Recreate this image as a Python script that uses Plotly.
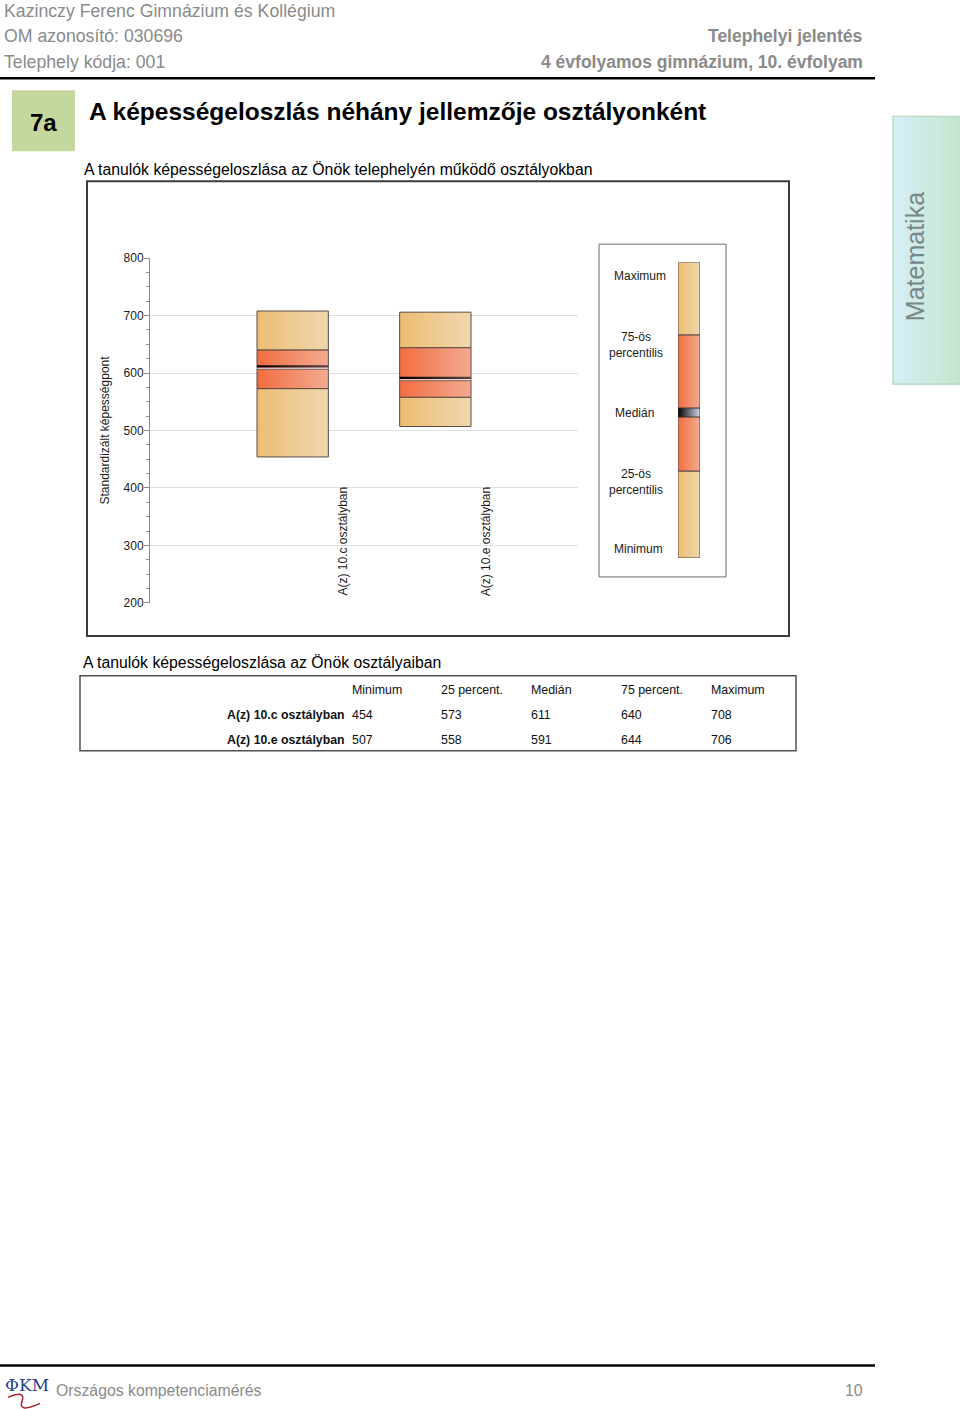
import plotly.graph_objects as go

# ---------------- data ----------------
classes = ["A(z) 10.c osztályban", "A(z) 10.e osztályban"]
minimum = [454, 507]
p25 = [573, 558]
median = [611, 591]
p75 = [640, 644]
maximum = [708, 706]

y_ticks = [200, 300, 400, 500, 600, 700, 800]
table_headers = ["Minimum", "25 percent.", "Medián", "75 percent.", "Maximum"]

# schematic legend bar levels (min, p25, median, p75, max) in arbitrary units
legend_levels = [0, 87, 145.5, 223, 296]
legend_labels = ["Minimum", "25-ös<br>percentilis", "Medián", "75-ös<br>percentilis", "Maximum"]

# ---------------- helpers ----------------
W, H = 960, 1409
FONT = "Arial, Liberation Sans, sans-serif"
# empirical vertical correction of the rendered page
V_OFF, V_SCALE = 6.7, 0.9907


def px(x):
    return x / W


def py(y):
    return 1 - ((y - V_OFF) / V_SCALE) / H


OUTER = [[0, "#EDBD73"], [1, "#F0D7AE"]]
INNER = [[0, "#F26D40"], [1, "#F3AB91"]]
MED = [[0, "#000000"], [1, "#5a4646"]]
MED_LEG = [[0, "#000000"], [1, "#cfdaea"]]
EDGE = dict(color="#5b4b45", width=1)


def rect(x0, x1, y0, y1, cs, line=EDGE, xa="x", ya="y"):
    return go.Scatter(
        x=[x0, x1, x1, x0, x0], y=[y0, y0, y1, y1, y0],
        mode="lines", fill="toself",
        fillgradient=dict(type="horizontal", colorscale=cs),
        line=line, hoverinfo="skip", showlegend=False, xaxis=xa, yaxis=ya,
    )


def hline(x0, x1, y, color, width, xa="x", ya="y"):
    return go.Scatter(x=[x0, x1], y=[y, y], mode="lines",
                      line=dict(color=color, width=width),
                      hoverinfo="skip", showlegend=False, xaxis=xa, yaxis=ya)


fig = go.Figure()

# ---------------- boxes ----------------
half = 0.25
for i, name in enumerate(classes):
    c = i + 1
    x0, x1 = c - half, c + half
    fig.add_trace(rect(x0, x1, minimum[i], p25[i], OUTER))
    fig.add_trace(rect(x0, x1, p75[i], maximum[i], OUTER))
    fig.add_trace(rect(x0, x1, p25[i], p75[i], INNER))
    fig.add_trace(rect(x0, x1, median[i] - 1.5, median[i] + 2.4, MED,
                       line=dict(width=0)))
    fig.add_trace(hline(x0, x1, median[i] - 2.8, "#f1e9ea", 1))
    fig.add_trace(hline(x0, x1, median[i] - 4.4, "#7a6662", 1))

# category labels (rotated, inside the plot)
for i, name in enumerate(classes):
    fig.add_annotation(x=i + 1 + 0.355, y=209, xref="x", yref="y", text=name,
                       textangle=-90, showarrow=False, xanchor="center",
                       yanchor="bottom", font=dict(family=FONT, size=12, color="#1a1a1a"))

# ---------------- legend bar ----------------
lmin, l25, lmed, l75, lmax = legend_levels
fig.add_trace(rect(0, 1, lmin, l25, OUTER, xa="x2", ya="y2"))
fig.add_trace(rect(0, 1, l75, lmax, OUTER, xa="x2", ya="y2"))
fig.add_trace(rect(0, 1, l25, l75, INNER, xa="x2", ya="y2"))
fig.add_trace(rect(0, 1, lmed - 4.5, lmed + 4.5, MED_LEG,
                   line=dict(color="#3a3030", width=1), xa="x2", ya="y2"))

legend_pos = [  # (center x px, center y px)
    (638.5, 549), (636, 482), (634.5, 413), (636, 345), (640, 276)
]
for lab, (lx, ly) in zip(legend_labels, legend_pos):
    fig.add_annotation(x=px(lx), y=py(ly), xref="paper", yref="paper", text=lab,
                       showarrow=False, xanchor="center", yanchor="middle", align="center",
                       font=dict(family=FONT, size=12, color="#1a1a1a"))

# ---------------- axes ----------------
fig.update_layout(
    width=W, height=H, margin=dict(l=0, r=0, t=0, b=0),
    paper_bgcolor="white", plot_bgcolor="rgba(0,0,0,0)",
    showlegend=False,
    xaxis=dict(domain=[px(150), px(578)], range=[0, 3], visible=False, fixedrange=True),
    yaxis=dict(domain=[py(603), py(258)], range=[200, 800],
               tickvals=y_ticks, ticktext=[str(v) for v in y_ticks],
               showgrid=True, gridcolor="#dedede", gridwidth=1,
               zeroline=False, showline=True, linecolor="#8a8a8a", linewidth=1,
               ticks="outside", ticklen=5, tickcolor="#8a8a8a", tickwidth=1,
               ticklabelstandoff=-2,
               minor=dict(dtick=25, ticks="outside", ticklen=3, tickcolor="#8a8a8a", showgrid=False),
               tickfont=dict(family=FONT, size=12, color="#1a1a1a"), fixedrange=True),
    xaxis2=dict(domain=[px(678), px(700)], range=[0, 1], visible=False, anchor="y2", fixedrange=True),
    yaxis2=dict(domain=[py(558), py(262)], range=[lmin, lmax], visible=False, anchor="x2", fixedrange=True),
)

# y-axis title
fig.add_annotation(x=px(105), y=py(430.5), xref="paper", yref="paper",
                   text="Standardizált képességpont", textangle=-90, showarrow=False,
                   xanchor="center", yanchor="middle",
                   font=dict(family=FONT, size=12, color="#1a1a1a"))

shapes = []
# chart frame
shapes.append(dict(type="rect", xref="paper", yref="paper", x0=px(87), x1=px(789),
                   y0=py(636), y1=py(181), line=dict(color="#3c3c3c", width=2)))
# legend frame
shapes.append(dict(type="rect", xref="paper", yref="paper", x0=px(599), x1=px(726),
                   y0=py(577), y1=py(244), line=dict(color="#6a6a6a", width=1)))
# table frame
shapes.append(dict(type="rect", xref="paper", yref="paper", x0=px(80), x1=px(796),
                   y0=py(751), y1=py(676), line=dict(color="#505050", width=1.5)))
# header / footer rules
shapes.append(dict(type="line", xref="paper", yref="paper", x0=0, x1=px(875),
                   y0=py(78), y1=py(78), line=dict(color="#000000", width=2.5)))
shapes.append(dict(type="line", xref="paper", yref="paper", x0=0, x1=px(875),
                   y0=py(1366), y1=py(1366), line=dict(color="#000000", width=2.5)))
# 7a box
shapes.append(dict(type="rect", xref="paper", yref="paper", x0=px(12), x1=px(75),
                   y0=py(151), y1=py(90), fillcolor="#c4d79d", line=dict(width=0)))


# side tab gradient (strips)
def mix(c1, c2, t):
    a = [int(c1[k:k + 2], 16) for k in (1, 3, 5)]
    b = [int(c2[k:k + 2], 16) for k in (1, 3, 5)]
    return "#" + "".join(f"{round(a[j] + (b[j] - a[j]) * t):02x}" for j in range(3))


n = 34
for k in range(n):
    xa = 893 + (960 - 893) * k / n
    xb = 893 + (960 - 893) * (k + 1) / n
    t = k / (n - 1)
    col = mix("#d6eef7", "#c2e5cd", t)
    shapes.append(dict(type="rect", xref="paper", yref="paper", x0=px(xa), x1=px(xb) + 0.0005,
                       y0=py(384), y1=py(116), fillcolor=col, line=dict(width=0), layer="below"))
shapes.append(dict(type="rect", xref="paper", yref="paper", x0=px(893), x1=px(961),
                   y0=py(384), y1=py(116), line=dict(color="#afd6b8", width=1.2)))
# logo swoosh
shapes.append(dict(type="path", xref="paper", yref="paper",
                   path=f"M {px(8)},{py(1398)} Q {px(26)},{py(1390)} {px(22)},{py(1402)} T {px(40)},{py(1404)}",
                   line=dict(color="#a3232a", width=1.5)))
fig.update_layout(shapes=shapes)

# ---------------- texts ----------------
GRAY = "#8a8a8a"


def txt(x, y, s, size, color="#000000", bold=False, xanchor="left", angle=0):
    fig.add_annotation(x=px(x), y=py(y), xref="paper", yref="paper",
                       text=f"<b>{s}</b>" if bold else s, showarrow=False,
                       xanchor=xanchor, yanchor="middle", textangle=angle,
                       font=dict(family=FONT, size=size, color=color))


txt(2, 10.5, "Kazinczy Ferenc Gimnázium és Kollégium", 17.7, GRAY)
txt(2, 36, "OM azonosító: 030696", 17.7, GRAY)
txt(2, 62, "Telephely kódja: 001", 17.7, GRAY)
txt(865, 36, "Telephelyi jelentés", 17.5, GRAY, bold=True, xanchor="right")
txt(865, 62, "4 évfolyamos gimnázium, 10. évfolyam", 17.5, GRAY, bold=True, xanchor="right")

txt(43.5, 122, "7a", 24, "#000000", bold=True, xanchor="center")
txt(87, 111, "A képességeloszlás néhány jellemzője osztályonként", 24.5, "#000000", bold=True)
txt(82, 169, "A tanulók képességeloszlása az Önök telephelyén működő osztályokban", 15.8)
txt(81, 663, "A tanulók képességeloszlása az Önök osztályaiban", 15.8)

txt(915, 257, "Matematika", 25, "#788888", xanchor="center", angle=-90)

# table
col_x = [350, 439, 529, 619, 709]
for hx, h in zip(col_x, table_headers):
    txt(hx, 690, h, 12.4, "#111111")
row_y = [715, 740]
for i, name in enumerate(classes):
    txt(347, row_y[i], name, 12.3, "#111111", bold=True, xanchor="right")
    vals = [minimum[i], p25[i], median[i], p75[i], maximum[i]]
    for hx, v in zip(col_x, vals):
        txt(hx, row_y[i], str(v), 12.4, "#111111")

# footer
fig.add_annotation(x=px(3), y=py(1386), xref="paper", yref="paper", text="ΦKM",
                   showarrow=False, xanchor="left", yanchor="middle",
                   font=dict(family="DejaVu Serif, serif", size=17, color="#27408b"))
txt(54, 1391, "Országos kompetenciamérés", 15.8, GRAY)
txt(865, 1391, "10", 15.8, GRAY, xanchor="right")

fig.write_html("out.html")
